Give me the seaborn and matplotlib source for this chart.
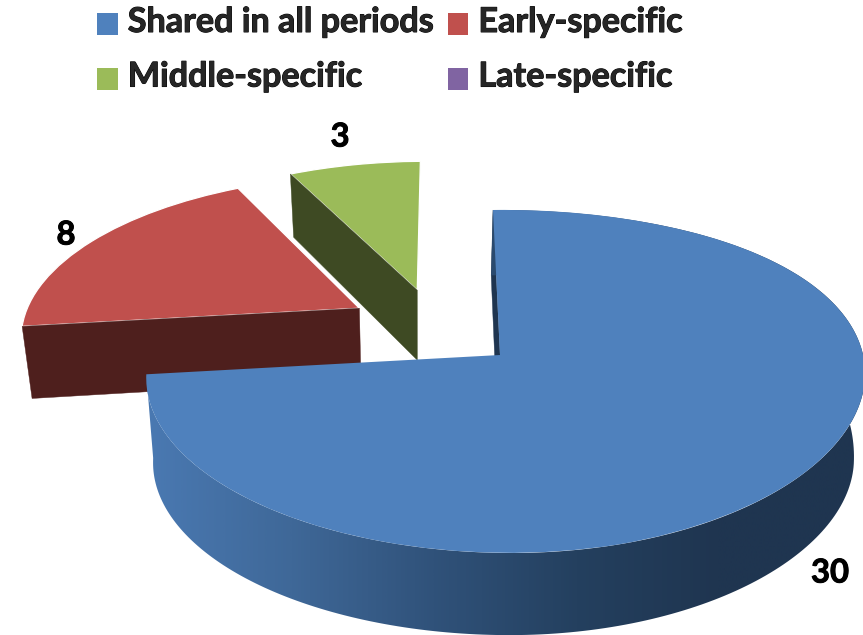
import numpy as np
import matplotlib
matplotlib.use("Agg")
import matplotlib.pyplot as plt
import matplotlib.patheffects as pe
from matplotlib.transforms import Transform
from matplotlib.patches import Polygon
from matplotlib.colors import LinearSegmentedColormap
import seaborn as sns

categories = ["Shared in all periods", "Early-specific", "Middle-specific", "Late-specific"]
values = [30, 8, 3, 0]
colors = ["#4F81BD", "#C0504D", "#9BBB59", "#8064A2"]
side_colors = ["#1F3550", "#4E1F1D", "#3E4A23", "#3A2C4C"]
rim_stops = ["#4A79B2", "#3F6898", "#30527A", "#24405F", "#1F3550", "#1F3550"]
data_labels = ["30", "8", "3"]

# layout / style
offsets = [(0.0, 0.0), (-0.41, 0.2935), (-0.24, 0.413), (0.0, 0.0)]
label_xy = [(830, 573), (66, 235), (340, 137)]
CX, CY, A, B, K, J, S, T = 500, 355, 355, 167.4, 0.1545, -0.0126, -7, -12
FONT = "Lato"
FS = 24.6
legend_order = [0, 2, 1, 3]
bolder = [pe.withStroke(linewidth=0.7, foreground="black")]

sns.set_theme(style="white")
plt.rcParams["font.family"] = [FONT, "DejaVu Sans"]


def project(xy):
    xy = np.asarray(xy, float)
    u, v = xy[..., 0], xy[..., 1]
    d = 1 + K * v + J * u
    return np.stack([CX + A * u / d + S * v,
                     CY - B * v / d + T * np.clip(u, 0, None) ** 2], axis=-1)


def base(p):
    p = np.asarray(p, float)
    depth = np.interp(p[..., 1], [170, 326, 380, 560], [63, 72, 85, 82])
    return np.stack([420 + (p[..., 0] - 420) * 0.975, p[..., 1] + depth], axis=-1)


class Projection(Transform):
    input_dims = output_dims = 2
    is_separable = False
    has_inverse = False

    def transform_non_affine(self, values):
        return project(values)


fig = plt.figure(figsize=(8.63, 6.35), dpi=100)
ax = fig.add_axes([0, 0, 1, 1])
wedges, _ = ax.pie(values, colors=colors, startangle=90, counterclock=False, radius=1)
ax.set_aspect("auto")
ax.set_xlim(0, 863)
ax.set_ylim(635, 0)
ax.set_axis_off()
tr = Projection() + ax.transData

starts = np.cumsum([0] + values[:-1]) / sum(values) * 2 * np.pi
spans = np.array(values) / sum(values) * 2 * np.pi
top_z = [8, 4, 1, 1]
top_edge = ["none", "white", "white", "none"]
for i, w in enumerate(wedges):
    w.set_center(offsets[i])
    w.set_transform(tr)
    w.set_zorder(top_z[i])
    w.set_clip_on(False)
    w.set_edgecolor(top_edge[i])
    w.set_linewidth(0.9 if top_edge[i] != "none" else 0)

# cut faces, seen at each wedge's starting edge
for i, z in zip([2, 1, 0], [2, 5, 6]):
    o = np.array(offsets[i])
    edge = np.array([o, o + [np.sin(starts[i]), np.cos(starts[i])]])
    t = project(edge)
    b = base(t)
    ax.add_patch(Polygon(np.vstack([t, b[::-1]]), closed=True, fc=side_colors[i],
                         ec=side_colors[i], lw=0.3, zorder=z))

# blue rim: a horizontal shading clipped to the rim outline
cmap = LinearSegmentedColormap.from_list("rim", rim_stops)
th = starts[0] + np.linspace(0, spans[0], 260)
rim_t = project(np.stack([np.sin(th), np.cos(th)], axis=-1))
rim_b = base(rim_t)
rim_poly = Polygon(np.vstack([rim_t, rim_b[::-1]]), closed=True, fc="none", ec="none",
                   transform=ax.transData)
ax.add_patch(rim_poly)
shade = ax.imshow(np.linspace(0, 1, 512)[None, :], cmap=cmap, aspect="auto",
                  extent=(147, 862, 635, 200), zorder=7, interpolation="bilinear")
shade.set_clip_path(rim_poly)
ax.set_xlim(0, 863)
ax.set_ylim(635, 0)
ax.set_aspect("auto")

for (x, y), s in zip(label_xy, data_labels):
    ax.text(x, y, s, ha="center", va="center", fontsize=FS - 1, fontweight="bold",
            color="black", zorder=10, path_effects=bolder)

leg = ax.legend([wedges[i] for i in legend_order], [categories[i] for i in legend_order],
                ncols=2, loc="upper left",
                bbox_to_anchor=(97 / 863, 1 - 6 / 635), frameon=False,
                prop={"family": FONT, "weight": "bold", "size": FS},
                handlelength=0.6, handleheight=0.6, handletextpad=0.3,
                columnspacing=0.41, labelspacing=0.66, borderpad=0, borderaxespad=0)
leg.set_zorder(11)
for h, i in zip(leg.legend_handles, legend_order):
    h.set_edgecolor("none")
    h.set_facecolor(colors[i])
    h.set_y(h.get_y() - 3)
for t in leg.get_texts():
    t.set_path_effects(bolder)

fig.savefig("out.png", dpi=100, facecolor="white")
